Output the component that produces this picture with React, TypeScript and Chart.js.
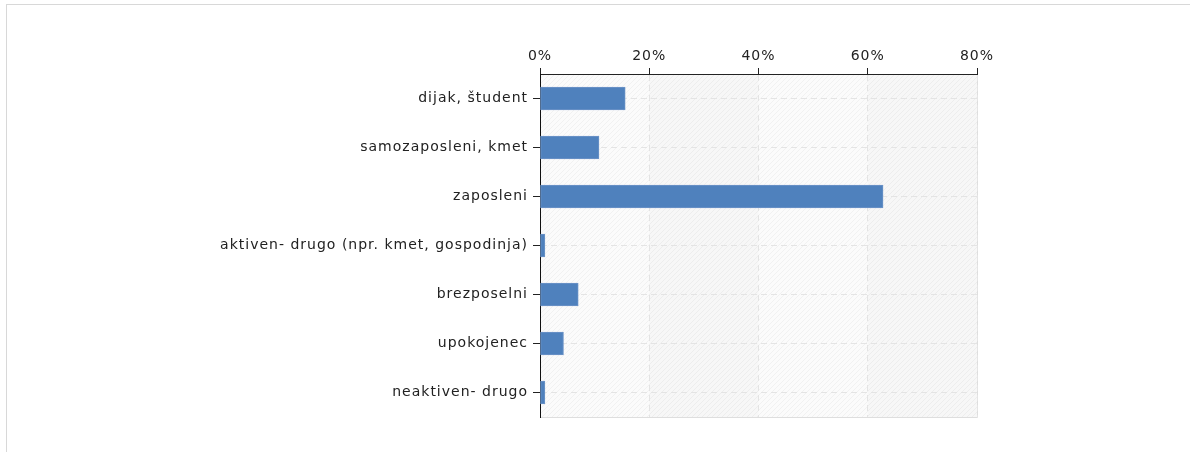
import React, { useEffect, useRef } from "react";
import { Chart, registerables } from "chart.js";

Chart.register(...registerables);

const categories = [
  "dijak, študent",
  "samozaposleni, kmet",
  "zaposleni",
  "aktiven- drugo (npr. kmet, gospodinja)",
  "brezposelni",
  "upokojenec",
  "neaktiven- drugo",
];
const values = [15.6, 10.8, 62.8, 0.9, 7.0, 4.3, 0.9];
const xTicks = [0, 20, 40, 60, 80];

const spacingPlugin = {
  id: "letterSpacing",
  beforeUpdate(chart: any) {
    chart.ctx.letterSpacing = "1px";
  },
  beforeDraw(chart: any) {
    chart.ctx.letterSpacing = "1px";
  },
};

const bgPlugin = {
  id: "hatchBg",
  beforeDraw(chart: any) {
    const { ctx, chartArea } = chart;
    const { left, top, right, bottom } = chartArea;
    const xs = chart.scales.x;
    ctx.save();
    ctx.fillStyle = "#fbfbfb";
    ctx.fillRect(left, top, right - left, bottom - top);
    for (let i = 0; i < xTicks.length - 1; i++) {
      if (i % 2 === 1) {
        const a = xs.getPixelForValue(xTicks[i]);
        const b = xs.getPixelForValue(xTicks[i + 1]);
        ctx.fillStyle = "rgba(0,0,0,0.015)";
        ctx.fillRect(a, top, b - a, bottom - top);
      }
    }
    ctx.beginPath();
    ctx.rect(left, top, right - left, bottom - top);
    ctx.clip();
    ctx.strokeStyle = "rgba(0,0,0,0.04)";
    ctx.lineWidth = 1;
    const h = bottom - top;
    for (let x = left - h; x < right + h; x += 5) {
      ctx.beginPath();
      ctx.moveTo(x, bottom);
      ctx.lineTo(x + h, top);
      ctx.stroke();
    }
    ctx.restore();
    ctx.save();
    ctx.strokeStyle = "#dedede";
    ctx.lineWidth = 1;
    ctx.beginPath();
    ctx.moveTo(right + 0.5, top);
    ctx.lineTo(right + 0.5, bottom + 0.5);
    ctx.lineTo(left, bottom + 0.5);
    ctx.stroke();
    ctx.restore();
  },
};

export default function App() {
  const ref = useRef<HTMLCanvasElement>(null);
  useEffect(() => {
    if (!ref.current) return;
    const chart = new Chart(ref.current, {
      type: "bar",
      data: {
        labels: categories,
        datasets: [
          {
            data: values,
            backgroundColor: "#4f81bd",
            borderColor: "#6e95c8",
            borderWidth: 1,
            borderSkipped: false,
            barThickness: 23,
          },
        ],
      },
      plugins: [spacingPlugin, bgPlugin],
      options: {
        indexAxis: "y",
        animation: false,
        responsive: false,
        maintainAspectRatio: false,
        layout: { padding: { left: 0, top: 0, right: 213, bottom: 35 } },
        plugins: { legend: { display: false }, tooltip: { enabled: false } },
        scales: {
          x: {
            position: "top",
            min: 0,
            max: 80,
            afterFit(scale: any) {
              scale.height = 74;
            },
            afterBuildTicks(scale: any) {
              scale.ticks = xTicks.map((v) => ({ value: v }));
            },
            ticks: {
              callback: (v: any) => v + "%",
              color: "#222",
              font: { family: "DejaVu Sans", size: 14 },
              padding: 3,
              maxRotation: 0,
            },
            grid: {
              color: "#e4e4e4",
              tickColor: "#222",
              tickLength: 6,
              drawTicks: true,
            },
            border: { color: "#222", width: 1, dash: [6, 4] },
          },
          y: {
            afterFit(scale: any) {
              scale.width = 540;
            },
            ticks: {
              color: "#222",
              font: { family: "DejaVu Sans", size: 14 },
              padding: 5,
            },
            grid: {
              offset: false,
              color: "#e4e4e4",
              tickColor: "#222",
              tickLength: 7,
            },
            border: { color: "#111", width: 1, dash: [6, 4] },
          },
        },
      },
    } as any);
    return () => chart.destroy();
  }, []);
  return (
    <div style={{ position: "fixed", left: 0, top: 0, width: 1190, height: 452, background: "#fff" }}>
      <div
        style={{
          position: "absolute",
          left: 6,
          top: 4,
          right: 0,
          bottom: 0,
          borderTop: "1px solid #d8d8d8",
          borderLeft: "1px solid #d8d8d8",
        }}
      />
      <canvas ref={ref} width={1190} height={452} style={{ position: "absolute", left: 0, top: 0 }} />
    </div>
  );
}
